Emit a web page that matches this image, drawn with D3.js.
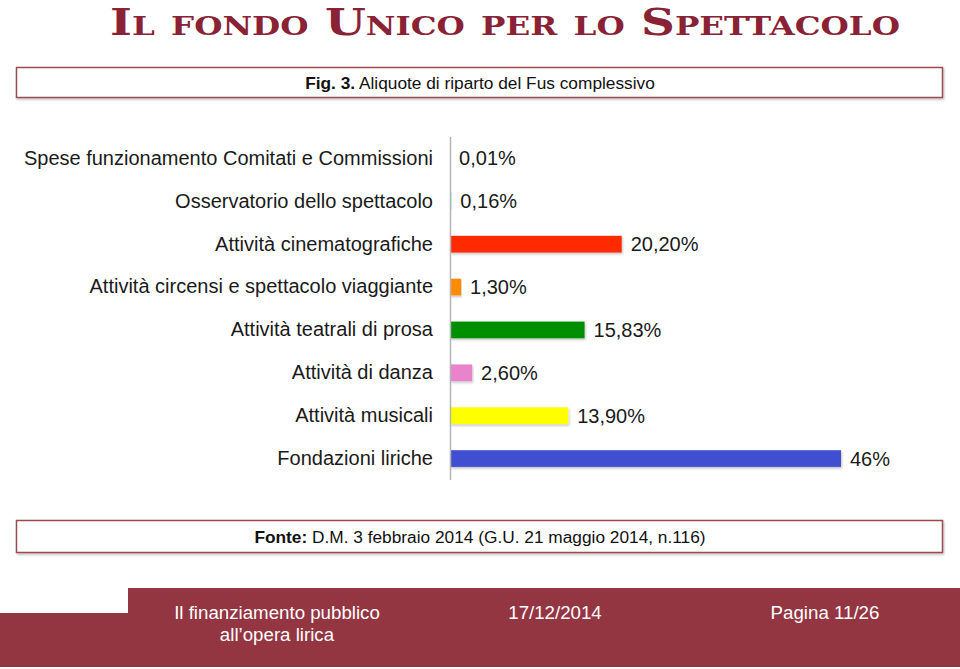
<!DOCTYPE html>
<html><head><meta charset="utf-8">
<script src="https://cdn.jsdelivr.net/npm/d3@7"></script>
<style>
html,body{margin:0;padding:0;background:#fff;}
svg{display:block;}
</style></head>
<body>
<script>
const categories = [
  "Spese funzionamento Comitati e Commissioni",
  "Osservatorio dello spettacolo",
  "Attività cinematografiche",
  "Attività circensi e spettacolo viaggiante",
  "Attività teatrali di prosa",
  "Attività di danza",
  "Attività musicali",
  "Fondazioni liriche"
];
const values = [0.01, 0.16, 20.20, 1.30, 15.83, 2.60, 13.90, 46];
const valueLabels = ["0,01%", "0,16%", "20,20%", "1,30%", "15,83%", "2,60%", "13,90%", "46%"];
const barColors = ["#5aa0d8", "#5fd3b8", "#ff2a00", "#ff8a00", "#008f00", "#e883cc", "#ffff00", "#4150d2"];

const titleText = "Il fondo Unico per lo Spettacolo";
const figNum = "Fig. 3.";
const figText = " Aliquote di riparto del Fus complessivo";
const sourceBold = "Fonte:";
const sourceText = " D.M. 3 febbraio 2014 (G.U. 21 maggio 2014, n.116)";
const footer1 = ["Il finanziamento pubblico", "all\u2019opera lirica"];
const footer2 = "17/12/2014";
const footer3 = "Pagina 11/26";

const W = 960, H = 669;
const svg = d3.select("body").append("svg").attr("width", W).attr("height", H);
const defs = svg.append("defs");
const sh = defs.append("filter").attr("id","sh").attr("x","-5%").attr("y","-20%").attr("width","110%").attr("height","160%");
sh.append("feDropShadow").attr("dx",1).attr("dy",1.5).attr("stdDeviation",1).attr("flood-color","#000").attr("flood-opacity",0.25);

// Title
svg.append("text")
  .attr("x", 110).attr("y", 35)
  .attr("textLength", 790).attr("lengthAdjust", "spacingAndGlyphs")
  .style("font-family", "'DejaVu Serif', 'Liberation Serif', serif")
  .style("font-variant", "small-caps")
  .style("font-weight", "bold")
  .style("font-size", "37.5px")
  .style("fill", "#8a2236")
  .text(titleText);

// Fig box
function box(y, h, bold, rest, ty) {
  svg.append("rect").attr("x", 16.5).attr("y", y).attr("width", 926).attr("height", h)
    .attr("fill", "#fff").attr("stroke", "#9b4b4f").attr("stroke-width", 1.5)
    .attr("filter", "url(#sh)");
  const t = svg.append("text").attr("x", 480).attr("y", ty).attr("text-anchor", "middle")
    .style("font-family", "'Liberation Sans', Arial, sans-serif").style("font-size", "17.3px").style("fill", "#111");
  t.append("tspan").style("font-weight", "bold").text(bold);
  t.append("tspan").text(rest);
}
box(67.5, 30, figNum, figText, 89);
box(520.5, 32, sourceBold, sourceText, 543);

// Chart
const x0 = 450;
const x = d3.scaleLinear().domain([0, 46]).range([x0, 841]);
const y = d3.scaleBand().domain(categories).range([137, 480]).paddingInner(0.61).paddingOuter(0.305);

const g = svg.append("g");
g.selectAll("rect.bar").data(values).enter().append("rect").attr("class","bar")
  .attr("x", x0)
  .attr("y", (d,i) => y(categories[i]))
  .attr("width", d => x(d) - x0)
  .attr("height", y.bandwidth())
  .attr("fill", (d,i) => barColors[i])
  .attr("filter", (d,i) => values[i] > 1 ? "url(#sh)" : null);

g.append("line").attr("x1", x0 + 0.5).attr("x2", x0 + 0.5).attr("y1", 137).attr("y2", 480)
  .attr("stroke", "#b5b5b5").attr("stroke-width", 1.5);

const axis = d3.axisLeft(y).tickSize(0).tickPadding(17);
const ag = g.append("g").attr("transform", `translate(${x0},0)`).call(axis);
ag.select(".domain").remove();
ag.selectAll("text")
  .style("font-family", "'Liberation Sans', Arial, sans-serif")
  .style("font-size", "20px").style("fill", "#1a1a1a");

g.selectAll("text.val").data(values).enter().append("text").attr("class","val")
  .attr("x", d => x(d) + 9)
  .attr("y", (d,i) => y(categories[i]) + y.bandwidth()/2)
  .attr("dy", "0.35em")
  .style("font-family", "'Liberation Sans', Arial, sans-serif")
  .style("font-size", "20px").style("fill", "#1a1a1a")
  .text((d,i) => valueLabels[i]);

// Footer
const fcol = "#943542";
svg.append("path")
  .attr("d", `M128,588 H960 V667 H0 V613 H128 Z`)
  .attr("fill", fcol);
const ff = "'Liberation Sans', Arial, sans-serif";
const f1 = svg.append("text").attr("text-anchor","middle").style("font-family", ff).style("font-size","18.7px").style("fill","#fff");
f1.append("tspan").attr("x", 277).attr("y", 619).text(footer1[0]);
f1.append("tspan").attr("x", 277).attr("y", 641).text(footer1[1]);
svg.append("text").attr("x", 555).attr("y", 619).attr("text-anchor","middle").style("font-family", ff).style("font-size","18.7px").style("fill","#fff").text(footer2);
svg.append("text").attr("x", 825).attr("y", 619).attr("text-anchor","middle").style("font-family", ff).style("font-size","18.7px").style("fill","#fff").text(footer3);
</script>
</body></html>
